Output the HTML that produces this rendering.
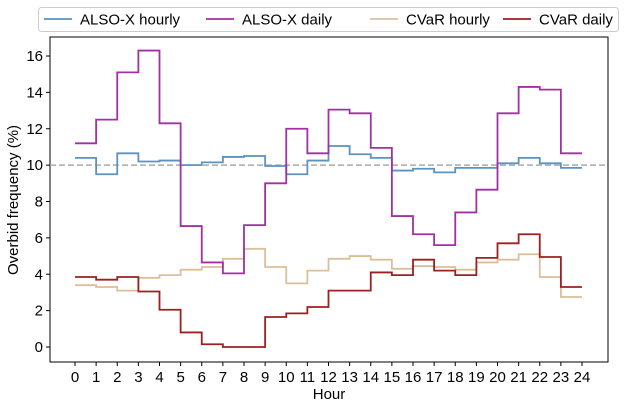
<!DOCTYPE html>
<html><head><meta charset="utf-8"><style>
body{margin:0;background:#fff;font-family:"Liberation Sans",sans-serif}
svg text{font-family:"Liberation Sans",sans-serif;fill:#000}
</style></head><body>
<svg id="c" width="625" height="408"></svg>
<script>
const hours=[...Array(25).keys()];
const yTicks=[0,2,4,6,8,10,12,14,16];
const seriesNames=["ALSO-X hourly","ALSO-X daily","CVaR hourly","CVaR daily"];
const alsoHourly=[10.4,9.5,10.65,10.2,10.25,10.0,10.15,10.45,10.5,9.95,9.5,10.25,11.05,10.6,10.4,9.7,9.8,9.6,9.85,9.85,10.1,10.4,10.1,9.85];
const alsoDaily=[11.2,12.5,15.1,16.3,12.3,6.65,4.65,4.05,6.7,9.0,12.0,10.65,13.05,12.85,10.95,7.2,6.2,5.6,7.4,8.65,12.85,14.3,14.15,10.65];
const cvarHourly=[3.4,3.3,3.1,3.8,3.95,4.25,4.4,4.85,5.4,4.4,3.5,4.2,4.85,5.0,4.8,4.3,4.45,4.4,4.25,4.65,4.8,5.1,3.85,2.75];
const cvarDaily=[3.85,3.7,3.85,3.05,2.05,0.8,0.15,0.0,0.0,1.65,1.85,2.2,3.1,3.1,4.1,3.95,4.8,4.2,3.95,4.9,5.7,6.2,4.95,3.3];
const refLine=10;
const NS="http://www.w3.org/2000/svg";
const svg=document.getElementById('c');
const X=v=>75+v*(582-75)/24, Y=v=>347-v*(347-56)/16;
function mk(t,a,p){const e=document.createElementNS(NS,t);for(const k in a)e.setAttribute(k,a[k]);(p||svg).appendChild(e);return e;}
const frame=mk('rect',{x:50,y:37,width:558,height:325,fill:'none',stroke:'#000','stroke-width':1});


hours.forEach(h=>{
  const t=mk('line',{x1:X(h),x2:X(h),y1:362,y2:366,stroke:'#000'});
  
  
  const l=mk('text',{x:X(h),y:382,'font-size':15,'text-anchor':'middle'});l.textContent=h;
  
  
});
yTicks.forEach(v=>{
  const t=mk('line',{x1:46,x2:50,y1:Y(v),y2:Y(v),stroke:'#000'});
  
  
  const l=mk('text',{x:43,y:Y(v)+5,'font-size':15,'text-anchor':'end'});l.textContent=v;
  
  
});
const xt=mk('text',{x:329,y:399,'font-size':15,'text-anchor':'middle'});xt.textContent='Hour';


const yt=mk('text',{x:18,y:200,'font-size':15,'text-anchor':'middle',transform:'rotate(-90 18 200)'});yt.textContent='Overbid frequency (%)';


const rl=mk('line',{x1:50,x2:608,y1:Y(refLine),y2:Y(refLine),stroke:'#aaa','stroke-width':1.6,'stroke-dasharray':'6,3'});


const cols=['#5b93c1','#a030a4','#dcbf98','#9c2020'];
const data=[alsoHourly,alsoDaily,cvarHourly,cvarDaily];
const order=[2,3,0,1];
order.forEach(i=>{
  const d=data[i];let p='';
  d.forEach((v,h)=>{p+=(h?'L':'M')+X(h)+','+Y(v)+'L'+X(h+1)+','+Y(v);});
  const e=mk('path',{d:p,fill:'none',stroke:cols[i],'stroke-width':1.8});
  
  
});
const lg=mk('rect',{x:38.5,y:7.5,width:580,height:24,fill:'#fff',stroke:'#ccc',rx:3});


const lx=[44,206,370,503];
seriesNames.forEach((n,i)=>{
  const ln=mk('line',{x1:lx[i],x2:lx[i]+28,y1:19,y2:19,stroke:cols[i],'stroke-width':1.8});
  
  
  const t=mk('text',{x:lx[i]+36,y:24.5,'font-size':15});t.textContent=n;
  
  
});
</script>
</body></html>
